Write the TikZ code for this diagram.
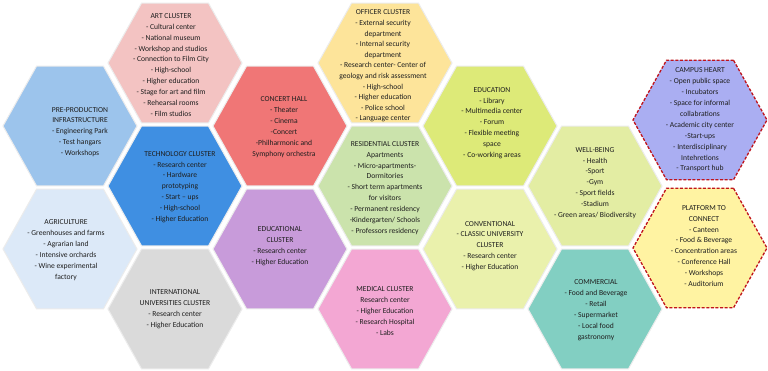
\documentclass[tikz,border=0pt]{standalone}
\usepackage{fontspec}
\setmainfont{Carlito}
\usetikzlibrary{shapes.geometric}
\definecolor{cArt}{HTML}{F3C3C2}
\definecolor{cOff}{HTML}{FDE49A}
\definecolor{cPre}{HTML}{9CC4EC}
\definecolor{cCon}{HTML}{F07676}
\definecolor{cEdu}{HTML}{DDEA78}
\definecolor{cCam}{HTML}{AAAEF2}
\definecolor{cTec}{HTML}{3F8FE2}
\definecolor{cRes}{HTML}{CBE3AC}
\definecolor{cWel}{HTML}{E3EDA3}
\definecolor{cAgr}{HTML}{DCE9F8}
\definecolor{cEdc}{HTML}{C89BDA}
\definecolor{cCnv}{HTML}{EAF1AC}
\definecolor{cPla}{HTML}{FFF3A2}
\definecolor{cInt}{HTML}{DADADA}
\definecolor{cMed}{HTML}{F3A7D3}
\definecolor{cCom}{HTML}{82CFC2}
\definecolor{cKey}{HTML}{C0141C}
\begin{document}
\begin{tikzpicture}[x=1pt,y=-1pt,
  hexbox/.style={regular polygon, regular polygon sides=6, minimum size=134pt,
    inner sep=0pt, outer sep=0pt, draw=white!85!gray, line width=1pt,
    yscale=1.03, transform shape},
  keyhex/.style={hexbox, draw=cKey, line width=1.3pt, dash pattern=on 3pt off 1.6pt},
  hexlabel/.style={align=center, font=\fontsize{7.6}{10.9}\selectfont,
    text=black!88, inner sep=0pt}]
\useasboundingbox (0,0) rectangle (768,370);
\fill[white] (0,0) rectangle (768,370);

% hexagons
\node[hexbox, fill=cArt] (art) at (175,63) {};
\node[hexbox, fill=cOff] (off) at (385,63) {};
\node[hexbox, fill=cPre] (pre) at (70,126) {};
\node[hexbox, fill=cCon] (con) at (280,126) {};
\node[hexbox, fill=cEdu] (edu) at (490,126) {};
\node[keyhex, fill=cCam] (cam) at (700,120) {};
\node[hexbox, fill=cTec] (tec) at (175,186) {};
\node[hexbox, fill=cRes] (res) at (385,186) {};
\node[hexbox, fill=cWel] (wel) at (595,186) {};
\node[hexbox, fill=cAgr] (agr) at (70,249) {};
\node[hexbox, fill=cEdc] (edc) at (280,249) {};
\node[hexbox, fill=cCnv] (cnv) at (490,249) {};
\node[keyhex, fill=cPla] (pla) at (700,248) {};
\node[hexbox, fill=cInt] (int) at (175,309) {};
\node[hexbox, fill=cMed] (med) at (385,309) {};
\node[hexbox, fill=cCom] (com) at (595,309) {};

% labels
\node[hexlabel] (artT) at (171,65) {ART CLUSTER\\- Cultural center\\- National museum\\- Workshop and studios\\- Connection to Film City\\- High-school\\- Higher education\\- Stage for art and film\\- Rehearsal rooms\\- Film studios};
\node[hexlabel, font=\fontsize{7.6}{10.6}\selectfont] (offT) at (383,66) {OFFICER CLUSTER\\- External security\\department\\- Internal security\\department\\- Research center- Center of\\geology and risk assessment\\- High-school\\- Higher education\\- Police school\\- Language center};
\node[hexlabel] (preT) at (80,132) {PRE-PRODUCTION\\INFRASTRUCTURE\\- Engineering Park\\- Test hangars\\- Workshops};
\node[hexlabel] (conT) at (284,127) {CONCERT HALL\\- Theater\\- Cinema\\-Concert\\-Philharmonic and\\Symphony orchestra};
\node[hexlabel] (eduT) at (492,123) {EDUCATION\\- Library\\- Multimedia center\\- Forum\\- Flexible meeting\\space\\- Co-working areas};
\node[hexlabel] (camT) at (700,120) {CAMPUS HEART\\- Open public space\\- Incubators\\- Space for informal\\collabrations\\- Academic city center\\-Start-ups\\- Interdisciplinary\\Intehretions\\- Transport hub};
\node[hexlabel] (tecT) at (180,187) {TECHNOLOGY CLUSTER\\- Research center\\- Hardware\\prototyping\\- Start -- ups\\- High-school\\- Higher Education};
\node[hexlabel] (resT) at (385,188) {RESIDENTIAL CLUSTER\\Apartments\\- Micro-apartments-\\Dormitories\\- Short term apartments\\for visitors\\- Permanent residency\\-Kindergarten/ Schools\\- Professors residency};
\node[hexlabel] (welT) at (595,183) {WELL-BEING\\- Health\\-Sport\\-Gym\\- Sport fields\\-Stadium\\- Green areas/ Biodiversity};
\node[hexlabel] (agrT) at (66,250) {AGRICULTURE\\- Greenhouses and farms\\- Agrarian land\\- Intensive orchards\\- Wine experimental\\factory};
\node[hexlabel] (edcT) at (280,246) {EDUCATIONAL\\CLUSTER\\- Research center\\- Higher Education};
\node[hexlabel] (cnvT) at (490,246) {CONVENTIONAL\\- CLASSIC UNIVERSITY\\CLUSTER\\- Research center\\- Higher Education};
\node[hexlabel] (plaT) at (704,246) {PLATFORM TO\\CONNECT\\- Canteen\\- Food \& Beverage\\- Concentration areas\\- Conference Hall\\- Workshops\\- Auditorium};
\node[hexlabel] (intT) at (175,309) {INTERNATIONAL\\UNIVERSITIES CLUSTER\\- Research center\\- Higher Education};
\node[hexlabel] (medT) at (385,311) {MEDICAL CLUSTER\\Research center\\- Higher Education\\- Research Hospital\\- Labs};
\node[hexlabel] (comT) at (596,310) {COMMERCIAL\\- Food and Beverage\\- Retail\\- Supermarket\\- Local food\\gastronomy};
\end{tikzpicture}
\end{document}
